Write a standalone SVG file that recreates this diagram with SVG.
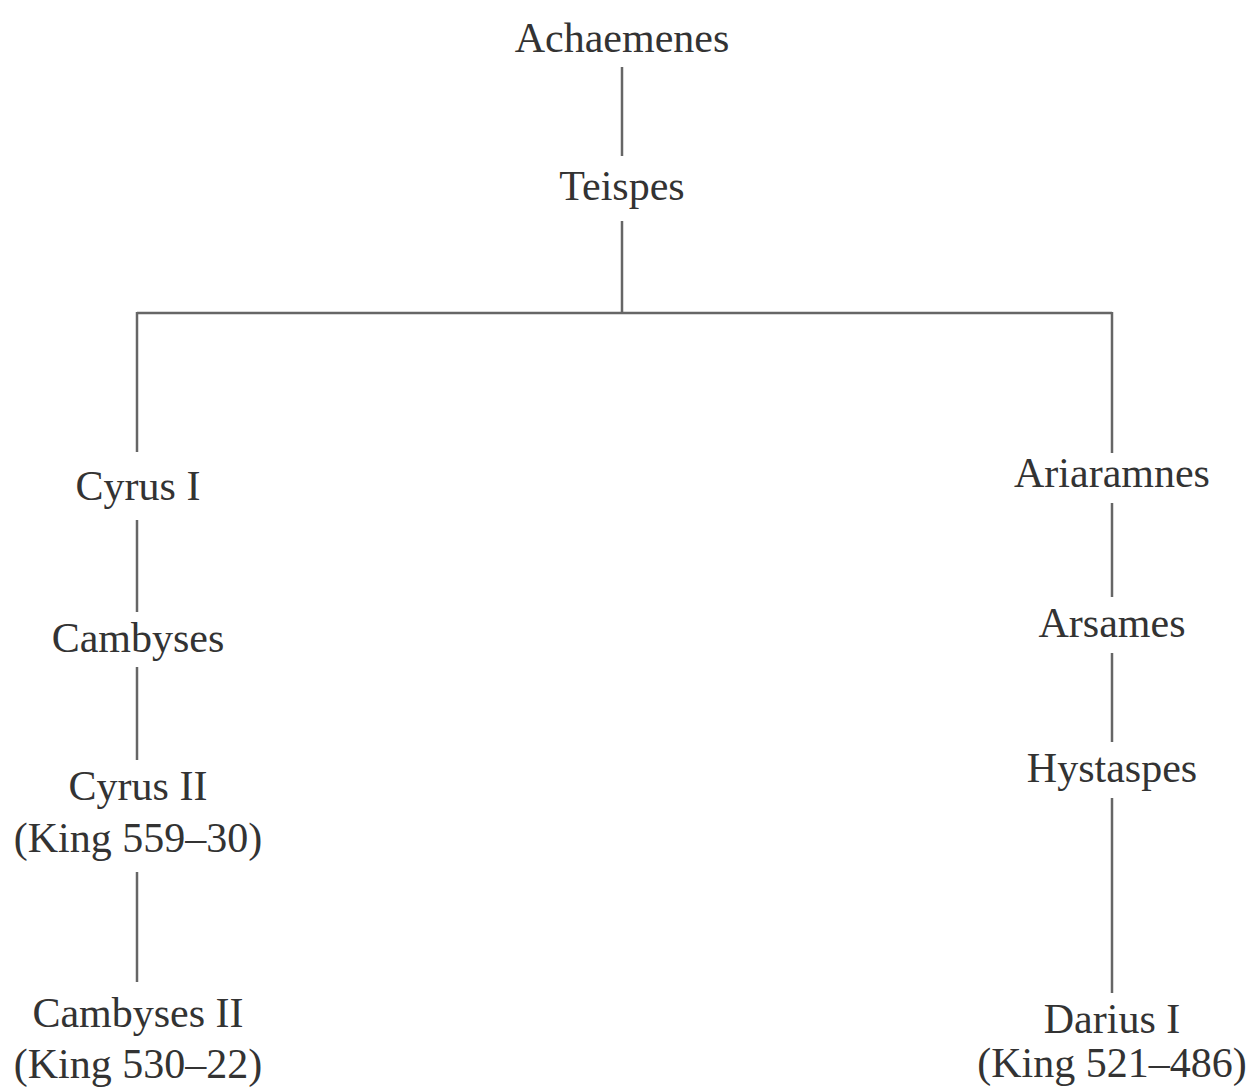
<svg xmlns="http://www.w3.org/2000/svg" width="1259" height="1089" viewBox="0 0 1259 1089">
<style>
text{font-family:"Liberation Serif","Times New Roman",serif;font-size:42px;fill:#333;text-anchor:middle}
.c line{stroke:#666;stroke-width:2.5;fill:none}
</style>
<rect width="1259" height="1089" fill="#fff"/>
<g class="c" id="connectors">
<line x1="622" y1="67" x2="622" y2="156"/>
<line x1="622" y1="221" x2="622" y2="313"/>
<line x1="137" y1="313" x2="1112" y2="313"/>
<line x1="137" y1="312" x2="137" y2="452"/>
<line x1="1112" y1="312" x2="1112" y2="453"/>
<line x1="137" y1="520" x2="137" y2="612"/>
<line x1="137" y1="667" x2="137" y2="760"/>
<line x1="137" y1="872" x2="137" y2="982"/>
<line x1="1112" y1="503" x2="1112" y2="597"/>
<line x1="1112" y1="653" x2="1112" y2="742"/>
<line x1="1112" y1="798" x2="1112" y2="993"/>
</g>
<g id="achaemenes"><text x="622" y="52">Achaemenes</text></g>
<g id="teispes"><text x="622" y="200">Teispes</text></g>
<g id="cyrus1"><text x="138" y="500">Cyrus I</text></g>
<g id="cambyses"><text x="138" y="652">Cambyses</text></g>
<g id="cyrus2"><text x="138" y="800">Cyrus II</text><text x="138" y="852">(King 559–30)</text></g>
<g id="cambyses2"><text x="138" y="1027">Cambyses II</text><text x="138" y="1078">(King 530–22)</text></g>
<g id="ariaramnes"><text x="1112" y="487">Ariaramnes</text></g>
<g id="arsames"><text x="1112" y="637">Arsames</text></g>
<g id="hystaspes"><text x="1112" y="782">Hystaspes</text></g>
<g id="darius1"><text x="1112" y="1033">Darius I</text><text x="1112" y="1077">(King 521–486)</text></g>
</svg>
